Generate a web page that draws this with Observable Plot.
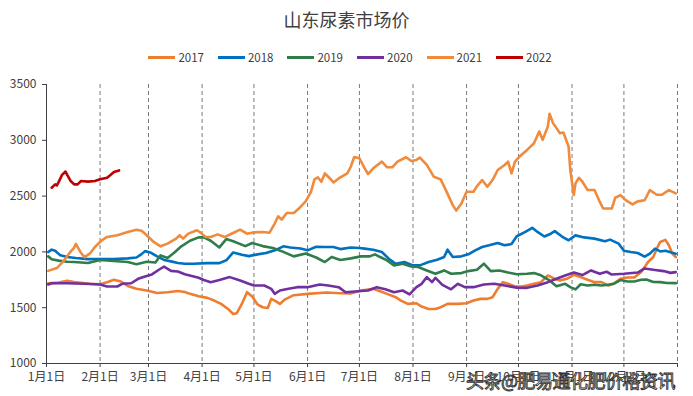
<!DOCTYPE html>
<html>
<head>
<meta charset="utf-8">
<script src="https://cdn.jsdelivr.net/npm/d3@7"></script>
<script src="https://cdn.jsdelivr.net/npm/@observablehq/plot@0.6"></script>
<style>
  html, body { margin: 0; padding: 0; background: #fff; }
  #wrap { position: relative; width: 693px; height: 396px; overflow: hidden; font-family: "Noto Sans CJK SC", "Noto Sans", sans-serif; }
  #title { position: absolute; left: 0; top: 7px; width: 693px; text-align: center; font-size: 18px; line-height: 24px; color: #404040; }
  #legend { position: absolute; left: 0; top: 49px; width: 700px; display: flex; justify-content: center; font-size: 11.5px; line-height: 16px; color: #404040; }
  .item { display: flex; align-items: center; margin: 0 7px; }
  .sw { width: 27px; height: 3px; margin-right: 3px; }
  #wm { position: absolute; left: 466px; top: 368px; font-size: 18px; line-height: 24px; color: #fff; -webkit-text-stroke: 0.9px #333; letter-spacing: -0.5px; white-space: nowrap; }
  #chart { position: absolute; left: 0; top: 0; }
</style>
</head>
<body>
<div id="wrap">
  <div id="chart"></div>
  <div id="title"></div>
  <div id="legend"></div>
  <div id="wm"></div>
</div>
<script>
const titleText = "山东尿素市场价";
const watermark = "头条@肥易通化肥价格资讯";
const years = ["2017", "2018", "2019", "2020", "2021", "2022"];
const colors = ["#ED7D31", "#0070C0", "#2E7D4B", "#7030A0", "#F08A3C", "#C00000"];
const yTicks = [1000, 1500, 2000, 2500, 3000, 3500];
const monthDays = [0, 31, 59, 90, 120, 151, 181, 212, 243, 273, 304, 334, 365];
const monthLabels = ["1月1日", "2月1日", "3月1日", "4月1日", "5月1日", "6月1日", "7月1日", "8月1日", "9月1日", "10月1日", "11月1日", "12月1日", ""];

// [day of year, price]
const s2017 = [[1,1718],[7,1725],[12,1742],[16,1729],[25,1714],[31,1710],[35,1729],[39,1750],[43,1735],[47,1695],[52,1669],[58,1654],[64,1632],[70,1639],[76,1650],[80,1640],[83,1624],[88,1602],[93,1588],[97,1564],[101,1534],[105,1489],[108,1444],[110,1450],[113,1534],[116,1639],[119,1600],[122,1530],[125,1504],[128,1497],[130,1579],[132,1564],[135,1534],[138,1575],[143,1612],[151,1624],[162,1636],[170,1630],[176,1628],[182,1654],[189,1669],[193,1648],[197,1624],[202,1594],[205,1564],[209,1534],[214,1540],[217,1510],[221,1489],[225,1489],[228,1504],[232,1534],[238,1534],[243,1540],[247,1564],[251,1579],[255,1579],[258,1594],[261,1669],[264,1729],[267,1714],[271,1690],[275,1690],[278,1699],[282,1714],[286,1729],[290,1789],[294,1759],[297,1744],[301,1759],[305,1795],[309,1774],[313,1750],[317,1729],[321,1729],[325,1699],[328,1714],[332,1760],[336,1770],[340,1770],[344,1819],[348,1909],[351,1954],[353,2029],[355,2089],[358,2108],[360,2059],[362,1984],[364,1954]];
const s2018 = [[1,1999],[3,2020],[5,2010],[8,1969],[12,1954],[17,1945],[24,1935],[31,1937],[39,1937],[47,1942],[52,1950],[55,1980],[57,2007],[60,1995],[64,1960],[68,1928],[72,1915],[76,1900],[80,1894],[85,1894],[93,1899],[100,1899],[104,1925],[108,1995],[113,1975],[117,1962],[122,1978],[127,1990],[133,2020],[137,2050],[141,2040],[147,2030],[151,2014],[156,2046],[161,2044],[166,2044],[170,2025],[176,2040],[181,2035],[184,2029],[189,2020],[194,1999],[198,1939],[202,1894],[207,1909],[212,1879],[216,1879],[221,1909],[226,1930],[230,1954],[232,2020],[235,1954],[240,1960],[244,1978],[248,2014],[252,2044],[256,2059],[261,2080],[265,2059],[269,2070],[272,2140],[277,2179],[281,2216],[284,2179],[288,2138],[291,2158],[294,2186],[298,2140],[302,2104],[306,2148],[311,2130],[317,2119],[323,2095],[326,2110],[331,2074],[334,2010],[338,1999],[342,1990],[346,1957],[349,1984],[352,2029],[355,2004],[358,2011],[362,1992],[364,1984]];
const s2019 = [[1,1960],[3,1935],[7,1922],[12,1912],[16,1909],[24,1900],[31,1928],[39,1918],[47,1909],[52,1890],[58,1912],[63,1905],[66,1969],[70,1945],[74,1995],[78,2050],[83,2100],[88,2130],[91,2130],[95,2100],[100,2040],[104,2115],[108,2095],[115,2052],[119,2080],[125,2052],[131,2035],[137,2000],[143,1960],[150,1985],[156,1950],[161,1909],[165,1955],[170,1928],[176,1942],[182,1960],[187,1960],[190,1978],[193,1954],[197,1924],[201,1879],[206,1894],[211,1870],[215,1864],[220,1834],[225,1804],[230,1834],[234,1804],[240,1810],[244,1828],[249,1840],[253,1894],[257,1828],[262,1834],[267,1815],[272,1800],[278,1804],[282,1810],[286,1790],[291,1744],[295,1692],[300,1714],[303,1684],[306,1664],[309,1710],[313,1699],[317,1705],[321,1699],[325,1705],[328,1714],[332,1748],[336,1735],[340,1735],[344,1750],[347,1752],[351,1730],[355,1729],[359,1722],[364,1720]];
const s2020 = [[1,1708],[3,1719],[12,1719],[22,1714],[31,1708],[35,1690],[41,1690],[44,1715],[49,1719],[53,1759],[57,1780],[61,1798],[65,1840],[68,1868],[72,1830],[76,1825],[80,1800],[84,1785],[88,1768],[91,1748],[95,1729],[100,1748],[106,1774],[112,1744],[117,1714],[120,1699],[126,1699],[130,1669],[132,1624],[135,1654],[140,1669],[145,1684],[151,1684],[158,1708],[163,1699],[169,1684],[173,1639],[180,1648],[186,1654],[191,1684],[196,1665],[201,1639],[206,1654],[210,1620],[214,1684],[217,1714],[220,1774],[223,1729],[225,1768],[229,1705],[234,1665],[238,1714],[242,1684],[247,1684],[253,1708],[259,1714],[265,1699],[272,1680],[278,1678],[284,1699],[290,1729],[295,1759],[300,1789],[305,1815],[310,1792],[315,1834],[320,1804],[324,1822],[327,1797],[334,1804],[342,1815],[346,1852],[352,1838],[357,1828],[361,1812],[364,1819]];
const s2021 = [[1,1830],[6,1855],[10,1920],[13,1984],[16,2038],[17,2072],[20,1990],[22,1954],[25,1984],[28,2044],[32,2104],[35,2134],[41,2149],[47,2179],[52,2198],[55,2190],[58,2149],[62,2089],[66,2050],[70,2074],[75,2119],[77,2149],[79,2119],[82,2164],[87,2194],[89,2175],[92,2134],[95,2133],[99,2157],[103,2133],[107,2163],[112,2199],[116,2163],[120,2175],[125,2178],[129,2172],[132,2254],[134,2319],[136,2289],[139,2349],[143,2349],[146,2388],[150,2454],[153,2538],[155,2649],[157,2667],[159,2628],[161,2703],[164,2658],[166,2622],[169,2658],[174,2703],[176,2763],[178,2850],[181,2839],[184,2750],[186,2698],[189,2749],[194,2809],[197,2758],[200,2758],[203,2809],[208,2848],[211,2815],[214,2824],[216,2845],[220,2779],[224,2674],[228,2650],[231,2554],[235,2419],[237,2370],[240,2434],[243,2539],[247,2539],[249,2590],[252,2644],[255,2584],[258,2644],[261,2734],[265,2779],[267,2809],[269,2704],[271,2809],[274,2860],[278,2914],[282,2974],[285,3079],[287,3004],[290,3124],[291,3238],[293,3154],[295,3109],[297,3064],[299,3070],[302,2944],[303,2734],[305,2510],[306,2614],[308,2664],[310,2629],[313,2554],[317,2554],[320,2450],[322,2389],[327,2389],[329,2485],[332,2509],[335,2464],[339,2425],[342,2453],[346,2463],[349,2554],[353,2512],[356,2512],[360,2554],[364,2524]];
const s2022 = [[3,2575],[5,2605],[6,2595],[7,2625],[9,2690],[11,2720],[12,2690],[14,2635],[16,2605],[18,2605],[20,2635],[24,2630],[28,2635],[31,2650],[35,2665],[37,2690],[39,2715],[42,2730]];

const seriesList = [s2017, s2018, s2019, s2020, s2021, s2022];
const rows = [];
seriesList.forEach((s, i) => s.forEach(([day, value]) => rows.push({year: years[i], day, value})));

const font = "'Noto Sans CJK SC', 'Noto Sans', sans-serif";
const chart = Plot.plot({
  width: 693, height: 396,
  marginLeft: 46, marginRight: 16, marginTop: 84, marginBottom: 33,
  style: {fontFamily: font, fontSize: "12px", color: "#404040", background: "transparent"},
  x: {domain: [0, 365], axis: null},
  y: {domain: [1000, 3500], axis: null},
  color: {domain: years, range: colors},
  marks: [
    Plot.ruleX(monthDays.slice(1), {stroke: "#7a7a7a", strokeWidth: 1, strokeDasharray: "4,3"}),
    Plot.line(rows, {x: "day", y: "value", z: "year", stroke: "year", strokeWidth: 2.6, strokeLinejoin: "round", strokeLinecap: "round"}),
    Plot.ruleX([0], {stroke: "#404040", strokeWidth: 1}),
    Plot.ruleY([1000], {stroke: "#404040", strokeWidth: 1}),
    Plot.axisY({ticks: yTicks, label: null, tickSize: 4, tickPadding: 6, tickFormat: d => String(d), stroke: "#404040", fill: "#404040", fontSize: 12}),
    Plot.axisX({ticks: monthDays, label: null, tickSize: 4, tickPadding: 5, tickFormat: d => monthLabels[monthDays.indexOf(d)], stroke: "#404040", fill: "#404040", fontSize: 12})
  ]
});
document.getElementById("chart").appendChild(chart);

document.getElementById("title").textContent = titleText;
document.getElementById("wm").textContent = watermark;
const legend = document.getElementById("legend");
years.forEach((y, i) => {
  const it = document.createElement("div");
  it.className = "item";
  const sw = document.createElement("span");
  sw.className = "sw";
  sw.style.background = colors[i];
  const t = document.createElement("span");
  t.textContent = y;
  it.appendChild(sw);
  it.appendChild(t);
  legend.appendChild(it);
});
</script>
</body>
</html>
